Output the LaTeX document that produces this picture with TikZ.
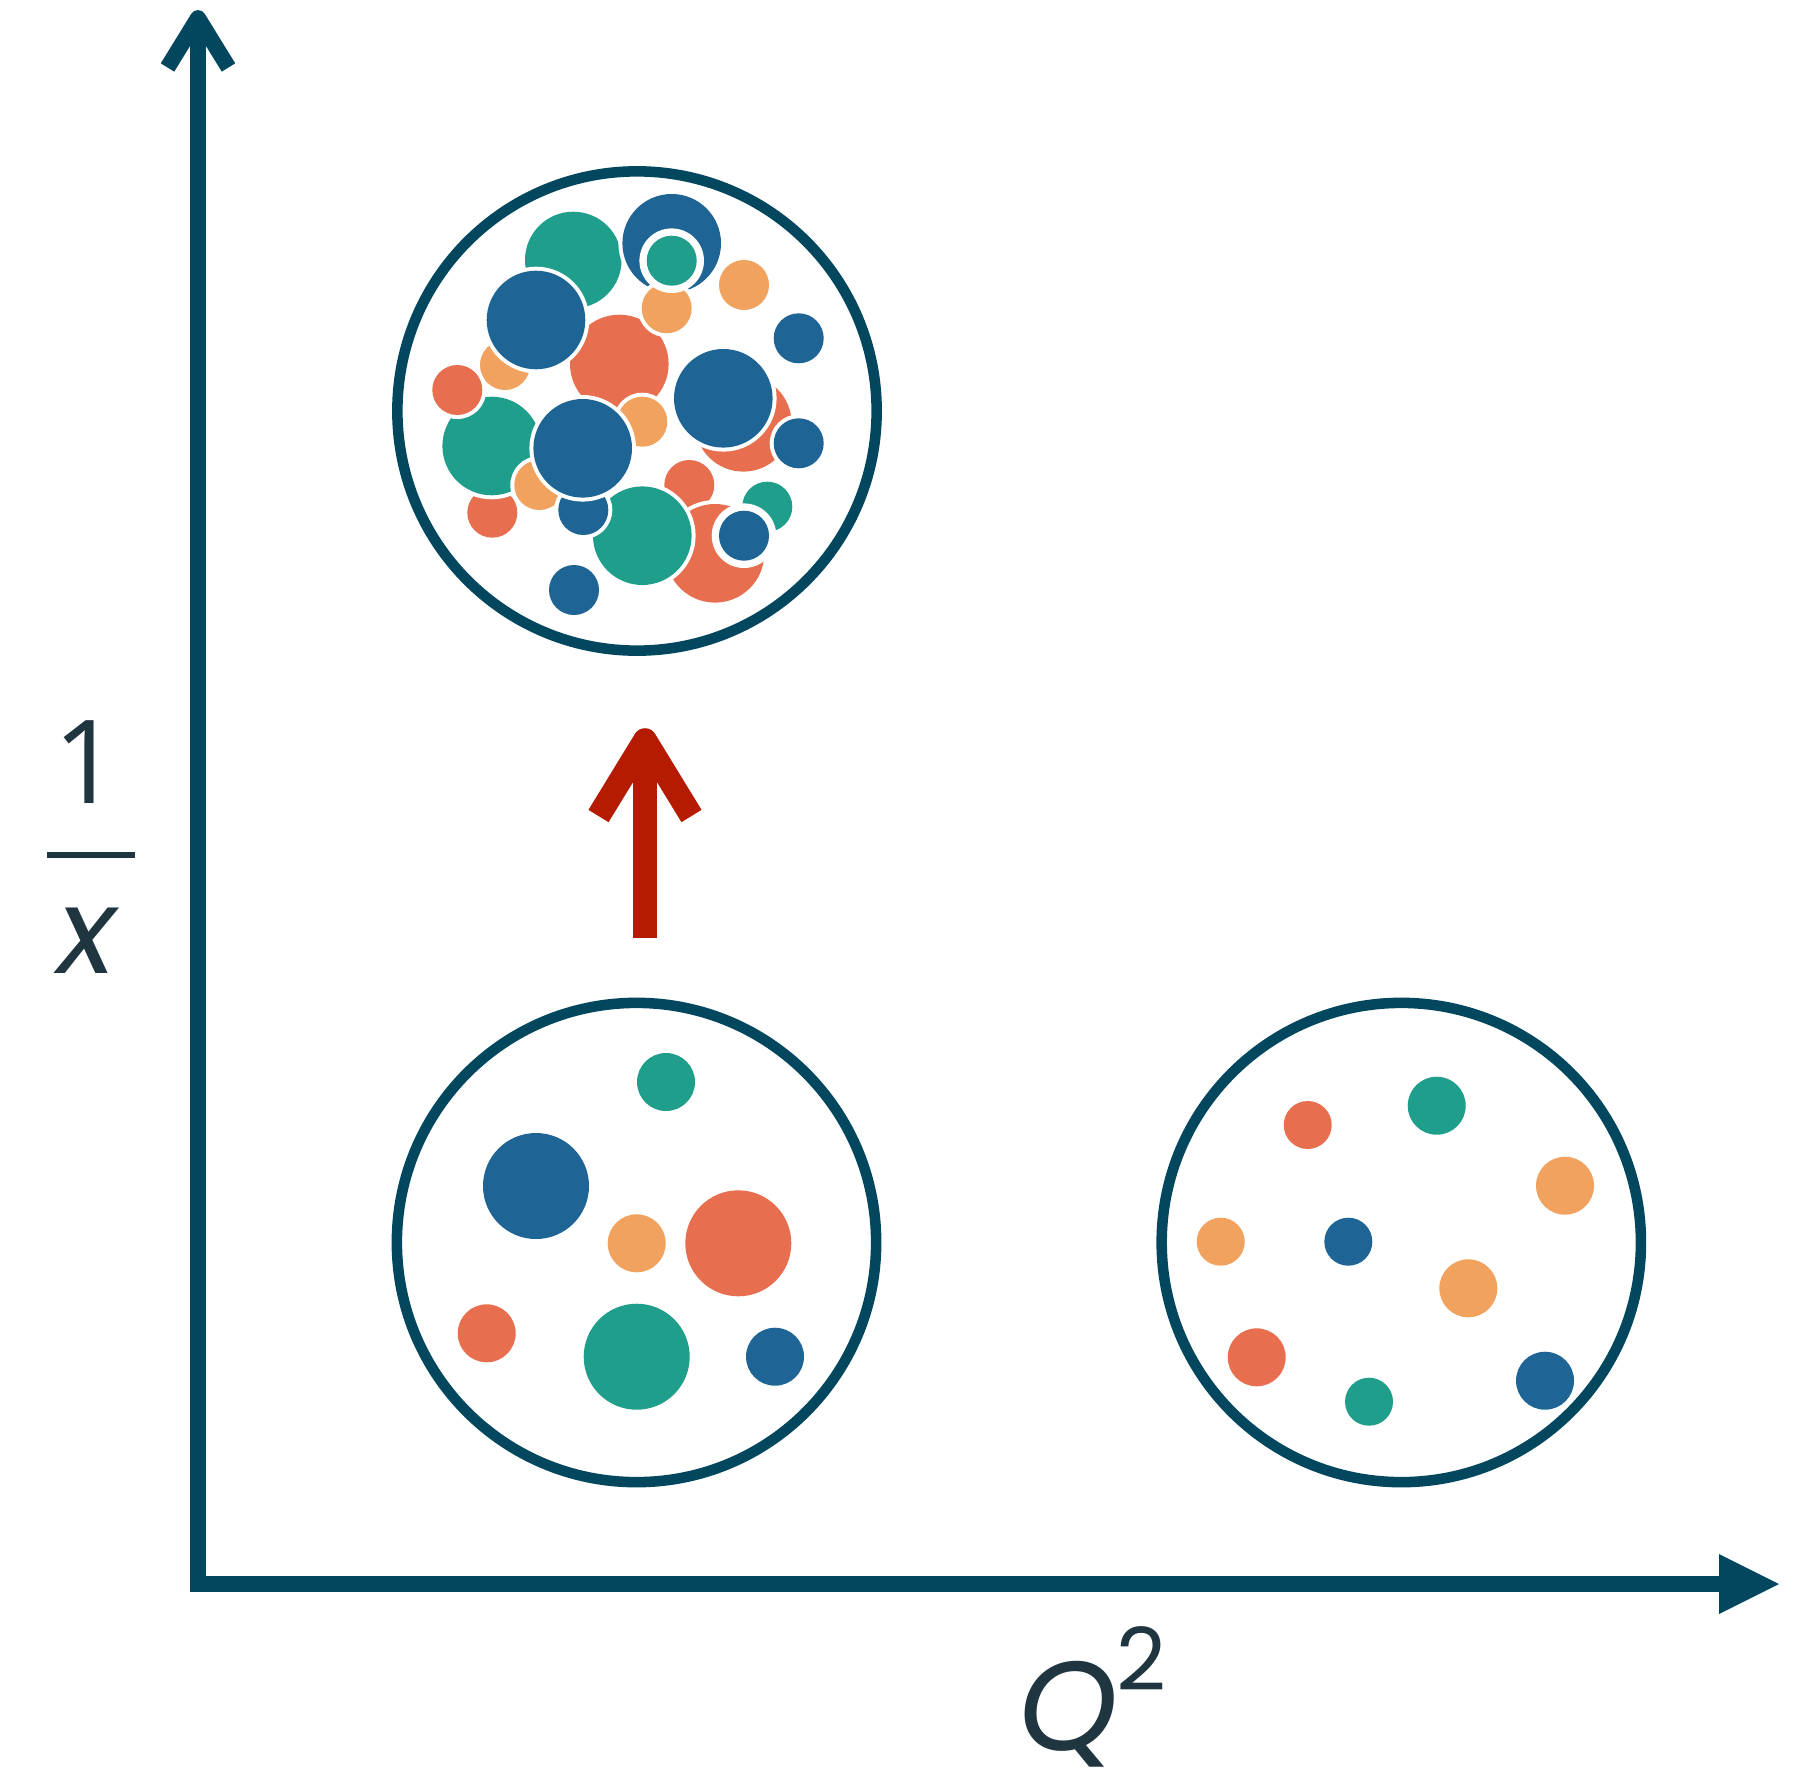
\documentclass[tikz,border=0pt]{standalone}
\usepackage{fontspec}
\setmainfont{Poppins}
\newfontfamily\onefont{Open Sans}
\usetikzlibrary{calc}
\definecolor{axiscol}{HTML}{03475F}
\definecolor{cteal}{HTML}{1F9E8C}
\definecolor{cblue}{HTML}{1E6494}
\definecolor{ccoral}{HTML}{E76E4E}
\definecolor{corange}{HTML}{F1A25E}
\definecolor{cred}{HTML}{B41B00}
\definecolor{ctext}{HTML}{1F3540}
\newcommand{\pdot}[4]{\fill[white] (#1,#2) circle[radius=#3+4]; \fill[#4] (#1,#2) circle[radius=#3];}
\newcommand{\hdot}[5]{\fill[white] (#1,#2) circle[radius=#4]; \fill[#5] (#1,#2) circle[radius=#3];}
\newcommand{\sdot}[4]{\fill[#4] (#1,#2) circle[radius=#3];}
\begin{document}
\begin{tikzpicture}[x=0.01cm,y=-0.01cm,
  proton/.style={circle, draw=axiscol, line width=3.0pt, minimum size=4.79cm, inner sep=0pt},
  axisline/.style={draw=axiscol, line width=4.5pt},
  redarrow/.style={draw=cred, line width=6.7pt},
  lbl/.style={text=ctext, inner sep=0pt}]
\useasboundingbox (0,0) rectangle (1804,1767);
\fill[white] (0,0) rectangle (1804,1767);

% axes
\coordinate (ytip) at (198,18);
\coordinate (corner) at (198,1584);
\coordinate (xend) at (1722,1584);
\coordinate (xtip) at (1779,1584);
\draw[axisline, line join=miter] (ytip) -- (corner) -- (xend);
\draw[axisline, line join=round] ($(ytip)+(-30.5,49.5)$) -- (ytip) -- ($(ytip)+(30.5,49.5)$);
\fill[axiscol] (xtip) -- ($(xtip)+(-60,-30)$) -- ($(xtip)+(-60,30)$) -- cycle;

% proton outlines
\node[proton] (p1) at (637,411) {};
\node[proton] (p2) at (636.5,1242.5) {};
\node[proton] (p3) at (1401.3,1242.5) {};

% dense cluster
\pdot{573.3}{260}{48.3}{cteal}
\pdot{619.3}{364}{49.3}{ccoral}
\pdot{505}{365}{25}{corange}
\pdot{536}{320}{49.3}{cblue}
\pdot{671.7}{243.3}{49.3}{cblue}
\pdot{666.7}{308.3}{25}{corange}
\hdot{671.7}{260.7}{25}{32.3}{cteal}
\pdot{744}{285}{25}{corange}
\pdot{798.7}{338.3}{25}{cblue}
\pdot{743.3}{423.3}{48.3}{ccoral}
\pdot{723.3}{398.3}{49.3}{cblue}
\pdot{798.7}{443.3}{25}{cblue}
\pdot{492.3}{512.7}{25}{ccoral}
\pdot{491.7}{446}{49.3}{cteal}
\pdot{457.3}{390}{25}{ccoral}
\pdot{539.3}{485}{25}{corange}
\pdot{689.3}{485}{25}{ccoral}
\pdot{715}{553.3}{49.3}{ccoral}
\pdot{642.3}{535.7}{49.3}{cteal}
\pdot{583.3}{510}{25}{cblue}
\pdot{642.3}{421.7}{25}{corange}
\pdot{582.7}{448.3}{49.3}{cblue}
\pdot{767.3}{506.7}{25}{cteal}
\hdot{744}{535.7}{25}{32.3}{cblue}
\pdot{574}{590}{25}{cblue}

% bottom-left proton
\sdot{666}{1082}{29}{cteal}
\sdot{536}{1186}{53}{cblue}
\sdot{636.7}{1243.3}{29}{corange}
\sdot{738.3}{1243.3}{53}{ccoral}
\sdot{486.7}{1333.3}{29}{ccoral}
\sdot{636.7}{1356.7}{53}{cteal}
\sdot{775}{1356.7}{29}{cblue}

% bottom-right proton
\sdot{1307.7}{1125}{24}{ccoral}
\sdot{1436.7}{1105.7}{29}{cteal}
\sdot{1565}{1185.7}{29}{corange}
\sdot{1220.7}{1241.7}{24}{corange}
\sdot{1348.3}{1241.7}{24}{cblue}
\sdot{1468.3}{1288.3}{29}{corange}
\sdot{1256.7}{1357.3}{29}{ccoral}
\sdot{1369}{1401.7}{24}{cteal}
\sdot{1545}{1380.7}{29}{cblue}

% red arrow
\coordinate (rbot) at (645,938);
\coordinate (rtip) at (645,740);
\draw[redarrow] (rbot) -- (rtip);
\draw[redarrow, line join=round] ($(rtip)+(-46.5,76)$) -- (rtip) -- ($(rtip)+(46.5,76)$);

% labels
\node[lbl, anchor=base, font=\onefont\fontsize{33pt}{40pt}\selectfont] (one) at (86.5,803) {1};
\coordinate (barl) at (47,855);
\coordinate (barr) at (135,855);
\draw[ctext, line width=1.7pt] (barl) -- (barr);
\node[lbl, anchor=base, font=\fontsize{34pt}{40pt}\selectfont\itshape] (ex) at (87,973) {x};
\node[lbl, anchor=base west, font=\fontsize{36pt}{42pt}\selectfont] (qlab) at (1018,1750) {\itshape Q\upshape\kern-0.5pt\raisebox{17pt}{\fontsize{24.7pt}{30pt}\selectfont 2}};
\end{tikzpicture}
\end{document}
